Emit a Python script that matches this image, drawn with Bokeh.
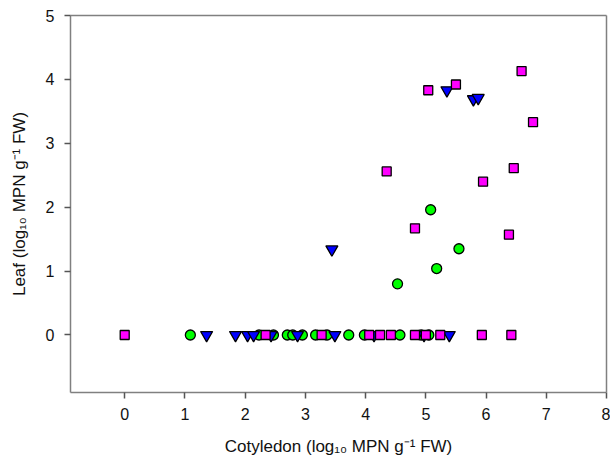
from bokeh.plotting import figure
from bokeh.models import FixedTicker, Range1d, LinearAxis
from bokeh.embed import file_html
from bokeh.resources import INLINE

# ---- data ----
circle_x = [5.08, 5.55, 5.18, 4.53,
            1.09, 2.23, 2.47, 2.70, 2.79, 2.95, 3.17, 3.36, 3.72, 3.98, 4.57, 4.92, 5.05]
circle_y = [1.96, 1.35, 1.04, 0.80,
            0, 0, 0, 0, 0, 0, 0, 0, 0, 0, 0, 0, 0]

tri_x = [3.44, 5.35, 5.79, 5.87,
         1.36, 1.84, 2.04, 2.14, 2.43, 2.87, 3.49, 4.14, 4.97, 5.39]
tri_y = [1.34, 3.83, 3.69, 3.71,
         0, 0, 0, 0, 0, 0, 0, 0, 0, 0]

sq_x = [6.59, 5.04, 5.50, 6.78, 4.35, 6.46, 5.95, 4.82, 6.38,
        0.0, 2.34, 3.27, 4.06, 4.24, 4.42, 4.82, 5.00, 5.24, 5.93, 6.42]
sq_y = [4.13, 3.83, 3.92, 3.33, 2.56, 2.61, 2.40, 1.67, 1.57,
        0, 0, 0, 0, 0, 0, 0, 0, 0, 0, 0]

x_ticks = [0, 1, 2, 3, 4, 5, 6, 7, 8]
y_ticks = [0, 1, 2, 3, 4, 5]
x_title = "Cotyledon (log\u2081\u2080 MPN g\u207b\u00b9 FW)"
y_title = "Leaf (log\u2081\u2080 MPN g\u207b\u00b9 FW)"

# ---- layout ----
FONT = "Liberation Sans"
GRAY = "#808080"

p = figure(frame_width=536, frame_height=377,
           min_border_left=70, min_border_right=4,
           min_border_top=15, min_border_bottom=66,
           x_range=Range1d(-0.9, 8.0), y_range=Range1d(-0.9, 5.0),
           output_backend="svg", toolbar_location=None)
p.grid.visible = False
p.outline_line_color = None
p.background_fill_color = "white"
p.border_fill_color = "white"

for ax, ticks in ((p.xaxis, x_ticks), (p.yaxis, y_ticks)):
    ax.ticker = FixedTicker(ticks=ticks)
    ax.axis_line_color = GRAY
    ax.axis_line_width = 1.5
    ax.major_tick_line_color = "#555555"
    ax.major_tick_line_width = 1.5
    ax.major_tick_out = 6
    ax.major_tick_in = 0
    ax.minor_tick_line_color = None
    ax.major_label_text_font = FONT
    ax.major_label_text_font_size = "16px"
    ax.major_label_text_color = "#111111"
    ax.axis_label_text_font = FONT
    ax.axis_label_text_font_size = "17px"
    ax.axis_label_text_font_style = "normal"
    ax.axis_label_text_color = "#111111"
p.xaxis.major_label_standoff = 9
p.yaxis.major_label_standoff = 10
p.xaxis.axis_label = x_title
p.yaxis.axis_label = y_title
p.xaxis.axis_label_standoff = 14
p.yaxis.axis_label_standoff = 14

# frame lines on top and right
for loc in ("above", "right"):
    fr = LinearAxis(ticker=FixedTicker(ticks=[]), axis_line_color=GRAY,
                    axis_line_width=1.5, major_tick_line_color=None,
                    minor_tick_line_color=None, major_label_text_alpha=0)
    p.add_layout(fr, loc)

# ---- markers ----
p.scatter(circle_x, circle_y, marker="circle", size=10, fill_color="#00ff00",
          line_color="black", line_width=1.3)
p.scatter(tri_x, tri_y, marker="inverted_triangle", size=12, fill_color="#0000ff",
          line_color="black", line_width=1.3)
p.scatter(sq_x, sq_y, marker="square", size=9, fill_color="#ff00ff",
          line_color="black", line_width=1.3)

open("out.html", "w").write(file_html(p, INLINE))
